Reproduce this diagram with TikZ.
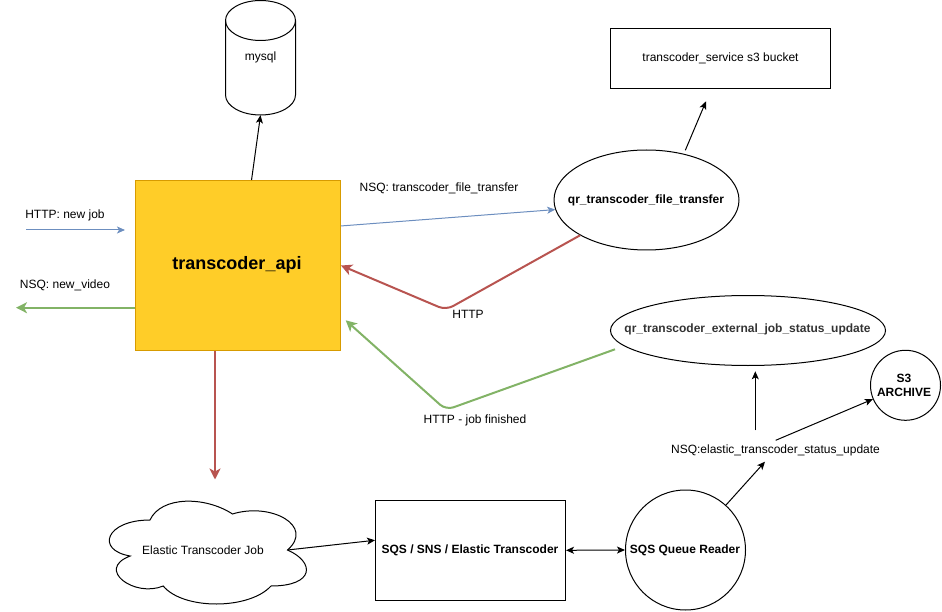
\documentclass[tikz,border=0pt]{standalone}
\usepackage{fontspec}
\setmainfont{Liberation Sans}
\usetikzlibrary{shapes.geometric,arrows.meta}

\definecolor{apifill}{HTML}{FFCD28}
\definecolor{apiline}{HTML}{D79B00}
\definecolor{bluearrow}{HTML}{6C8EBF}
\definecolor{redarrow}{HTML}{B85450}
\definecolor{greenarrow}{HTML}{82B366}
\definecolor{darktext}{HTML}{333333}

\begin{document}
\begin{tikzpicture}[x=1pt,y=-1pt,font=\fontsize{12}{14}\selectfont,
    >={Stealth[length=8pt,width=7pt,inset=2pt]},
    thickarrow/.style={line width=2pt,>={Stealth[length=11pt,width=11pt,inset=3pt]}}]

    \useasboundingbox (0,0) rectangle (942,612);

    \begin{scope}[every node/.style={draw,line width=1pt,align=center}]
        \node[fill=apifill,draw=apiline,minimum width=205,minimum height=170] (api) at (238,265.5) {};
        \node[minimum width=220,minimum height=60] (bucket) at (720.5,58.5) {};
        \node[ellipse,minimum width=185,minimum height=100] (file) at (646.5,200) {};
        \node[ellipse,minimum width=275,minimum height=70] (ext) at (748,330.5) {};
        \node[circle,minimum size=70,inner sep=0pt] (archive) at (905.5,385.3) {};
        \node[circle,minimum size=120,inner sep=0pt] (reader) at (685.5,550) {};
        \node[minimum width=190,minimum height=100] (sqs) at (470.5,550.3) {};
    \end{scope}

    % cylinder
    \draw[line width=1pt] (225.5,20.5) arc[start angle=180,end angle=0,x radius=35pt,y radius=20pt]
        -- (295.5,95) arc[start angle=0,end angle=-180,x radius=35pt,y radius=20pt] -- cycle;
    \draw[line width=1pt] (225.5,20.5) arc[start angle=180,end angle=360,x radius=35pt,y radius=20pt];
    \node[minimum width=70,minimum height=115,inner sep=0pt,outer sep=0pt] (mysql) at (260.5,57.7) {mysql};

    % cloud
    \begin{scope}[shift={(95,490)},x=220pt,y=-120pt]
        \draw[line width=1pt] (.25,.25) .. controls (.05,.25) and (0,.5) .. (.16,.55)
            .. controls (0,.66) and (.18,.9) .. (.31,.8)
            .. controls (.4,1) and (.7,1) .. (.8,.8)
            .. controls (1,.8) and (1,.6) .. (.875,.5)
            .. controls (1,.3) and (.8,.1) .. (.625,.2)
            .. controls (.5,.05) and (.3,.05) .. (.25,.25);
        \coordinate (cloudtip) at (.875,.5);
    \end{scope}

    % labels
    \node (apilabel) at (237,265) {\fontsize{18}{20}\selectfont\bfseries transcoder\_api};
    \node (bucketlabel) at (720.5,58.5) {transcoder\_service s3 bucket};
    \node (filelabel) at (646,200) {\bfseries qr\_transcoder\_file\_transfer};
    \node (extlabel) at (747.5,329) {\color{darktext}\bfseries qr\_transcoder\_external\_job\_status\_update};
    \node[align=center,font=\fontsize{12}{14}\selectfont\bfseries] (archivelabel) at (904,385) {S3\\ARCHIVE};
    \node (readerlabel) at (685,550) {\bfseries SQS Queue Reader};
    \node (sqslabel) at (470,550) {\bfseries SQS / SNS / Elastic Transcoder};
    \node (job) at (203,550) {Elastic Transcoder Job};
    \node (newjob) at (65,215.5) {HTTP: new job};
    \node (newvideo) at (65,285.5) {NSQ: new\_video};
    \node (transfer) at (439,188) {NSQ: transcoder\_file\_transfer};
    \node (http) at (468,314) {HTTP};
    \node (finished) at (475,420.5) {HTTP - job finished};
    \node (status) at (775.5,450.5) {NSQ:elastic\_transcoder\_status\_update};

    % free ends and bends
    \coordinate (jobin) at (26,230);
    \coordinate (jobend) at (125,230);
    \coordinate (videoend) at (16,307.7);
    \coordinate (cloudend) at (215,479.5);
    \coordinate (bucketend) at (706,101.3);
    \coordinate (filetop) at (685.3,150.3);
    \coordinate (redbend) at (446,310);
    \coordinate (greenbend) at (446,410);
    \coordinate (greenend) at (345.7,320.3);
    \coordinate (extout) at (615,349.3);
    \coordinate (statusin) at (765,461.7);
    \coordinate (statusup) at (755.3,430.3);
    \coordinate (extin) at (755.3,371.3);
    \coordinate (statusright) at (775.7,440.3);

    \begin{scope}[every edge/.style={draw,line width=1pt}]
        \path [->] (api.81) edge (mysql.south);
        \path [->] (filetop) edge (bucketend);
        \path [->] (cloudtip) edge (sqs.174.5);
        \path [<->] (sqs.east) edge (reader.west);
        \path [->] (reader.48) edge (statusin);
        \path [->] (statusup) edge (extin);
        \path [->] (statusright) edge (archive.203.7);
    \end{scope}

    \begin{scope}[every edge/.style={draw=bluearrow,line width=1pt}]
        \path [->] (jobin) edge (jobend);
        \path [->] (api.21.5) edge (file.186.6);
    \end{scope}

    \draw [->,thickarrow,draw=redarrow,rounded corners=8pt] (file.208.3) -- (redbend) -- (api.east);
    \draw [->,thickarrow,draw=redarrow] (api.south -| cloudend) -- (cloudend);
    \draw [->,thickarrow,draw=greenarrow,rounded corners=8pt] (extout) -- (greenbend) -- (greenend);
    \draw [->,thickarrow,draw=greenarrow] (api.west |- videoend) -- (videoend);

\end{tikzpicture}
\end{document}
